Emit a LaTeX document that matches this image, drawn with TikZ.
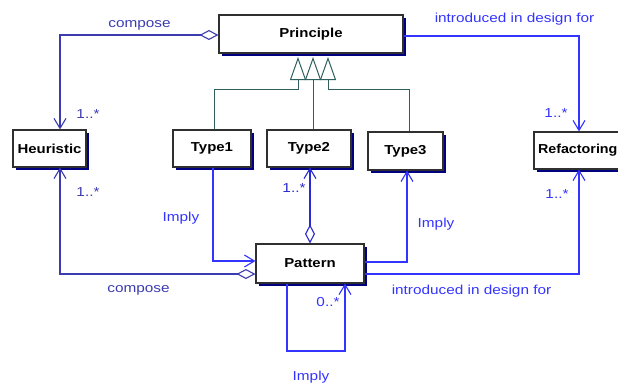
\documentclass[tikz,border=0pt]{standalone}
\usepackage{fontspec}
\setmainfont{Liberation Sans}
\newfontfamily\boxfont[FakeStretch=1.15]{Liberation Sans}
\newfontfamily\refont[FakeStretch=1.1]{Liberation Sans}
\newfontfamily\lblfont[FakeStretch=1.18]{Liberation Sans}
\usetikzlibrary{arrows.meta,shadows}
\definecolor{cmpblue}{HTML}{3C3CB0}
\definecolor{lnkblue}{HTML}{3434FF}
\definecolor{midblue}{HTML}{2A2AD0}
\definecolor{genteal}{HTML}{2E5E5E}
\definecolor{boxline}{HTML}{303030}
\definecolor{shadownavy}{HTML}{000080}
\tikzset{
  cls/.style={draw=boxline, line width=1.1pt, fill=white, inner sep=1pt,
    font=\boxfont\bfseries\fontsize{13}{15}\selectfont,
    drop shadow={shadow xshift=3pt, shadow yshift=-3pt, fill=shadownavy, opacity=1}},
  lbl/.style={font=\lblfont\fontsize{13}{15}\selectfont, inner sep=0pt},
  barb/.tip={Straight Barb[length=10pt,width=12pt,line width=1.1pt]},
  dia/.tip={Diamond[open,length=19pt,width=10pt,line width=1.1pt]},
  cmp/.style={draw=cmpblue, line width=1.1pt},
  lnk/.style={draw=lnkblue, line width=1.1pt},
  gen/.style={draw=genteal, line width=1pt, -{Triangle[open,length=23pt,width=16pt,line width=1pt]}},
}
\begin{document}
\begin{tikzpicture}[x=1pt,y=-1pt]
\clip (0,0) rectangle (618,386);
\fill[white] (0,0) rectangle (618,386);
% classes
\node[cls, minimum width=184pt, minimum height=38pt] (P) at (311,34) {Principle};
\node[cls, minimum width=73pt, minimum height=37pt] (H) at (49.5,148.5) {Heuristic};
\node[cls, minimum width=78pt, minimum height=37pt] (T1) at (212,148.5) {Type1};
\node[cls, minimum width=84pt, minimum height=37pt] (T2) at (309,148.5) {Type2};
\node[cls, minimum width=75pt, minimum height=38pt] (T3) at (405.5,151) {Type3};
\node[cls, minimum width=92pt, minimum height=37pt, text width=84pt, align=left,
  font=\refont\bfseries\fontsize{13}{15}\selectfont] (R) at (580,150.5) {Refactoring};
\node[cls, minimum width=108pt, minimum height=39pt] (Pa) at (310,263.5) {Pattern};
% generalizations
\coordinate (g1) at (298,57);
\coordinate (g2) at (313,57);
\coordinate (g3) at (328,57);
\draw[gen] (T1.north -| 214,0) -- (214,89) -- (298,89) -- (g1);
\draw[gen] (T2.north -| 313,0) -- (g2);
\draw[gen] (T3.north -| 409,0) -- (409,89) -- (328,89) -- (g3);
% compose Principle -> Heuristic
\draw[cmp, {dia}-{barb}] (P.west |- 0,35) -- (60,35) -- (H.north -| 60,0);
% introduced: Principle -> Refactoring
\draw[lnk, -{barb}] (P.east |- 0,36) -- (579,36) -- (R.north -| 579,0);
% compose Pattern -> Heuristic
\draw[cmp, {dia}-{barb}] (Pa.west |- 0,274) -- (60,274) -- (H.south -| 60,0);
% Type1 -> Pattern
\draw[lnk, -{barb}] (T1.south -| 213,0) -- (213,261) -- (Pa.west |- 0,261);
% Pattern -> Type2
\draw[draw=midblue, line width=1.1pt, {dia}-{barb}] (Pa.north -| 310,0) -- (T2.south -| 310,0);
% Pattern -> Type3
\draw[lnk, -{barb}] (Pa.east |- 0,262) -- (407,262) -- (T3.south -| 407,0);
% Pattern -> Refactoring
\draw[lnk, -{barb}] (Pa.east |- 0,274) -- (579,274) -- (R.south -| 579,0);
% self loop
\draw[lnk, -{barb}] (Pa.south -| 287,0) -- (287,351) -- (345,351) -- (Pa.south -| 345,0);
% labels
\node[lbl, text=cmpblue] (l1) at (139.5,25) {compose};
\node[lbl, text=cmpblue] (l2) at (88,114) {1..*};
\node[lbl, text=lnkblue] (l3) at (514.5,19) {introduced in design for};
\node[lbl, text=lnkblue] (l4) at (556,113) {1..*};
\node[lbl, text=cmpblue] (l5) at (88,192) {1..*};
\node[lbl, text=lnkblue] (l6) at (181,218) {Imply};
\node[lbl, text=midblue] (l7) at (294,188) {1..*};
\node[lbl, text=lnkblue] (l8) at (436,224) {Imply};
\node[lbl, text=lnkblue] (l9) at (557,194) {1..*};
\node[lbl, text=cmpblue] (l10) at (138.5,290) {compose};
\node[lbl, text=lnkblue] (l11) at (471.5,291) {introduced in design for};
\node[lbl, text=lnkblue] (l12) at (328,302) {0..*};
\node[lbl, text=lnkblue] (l13) at (311,377) {Imply};
\end{tikzpicture}
\end{document}
